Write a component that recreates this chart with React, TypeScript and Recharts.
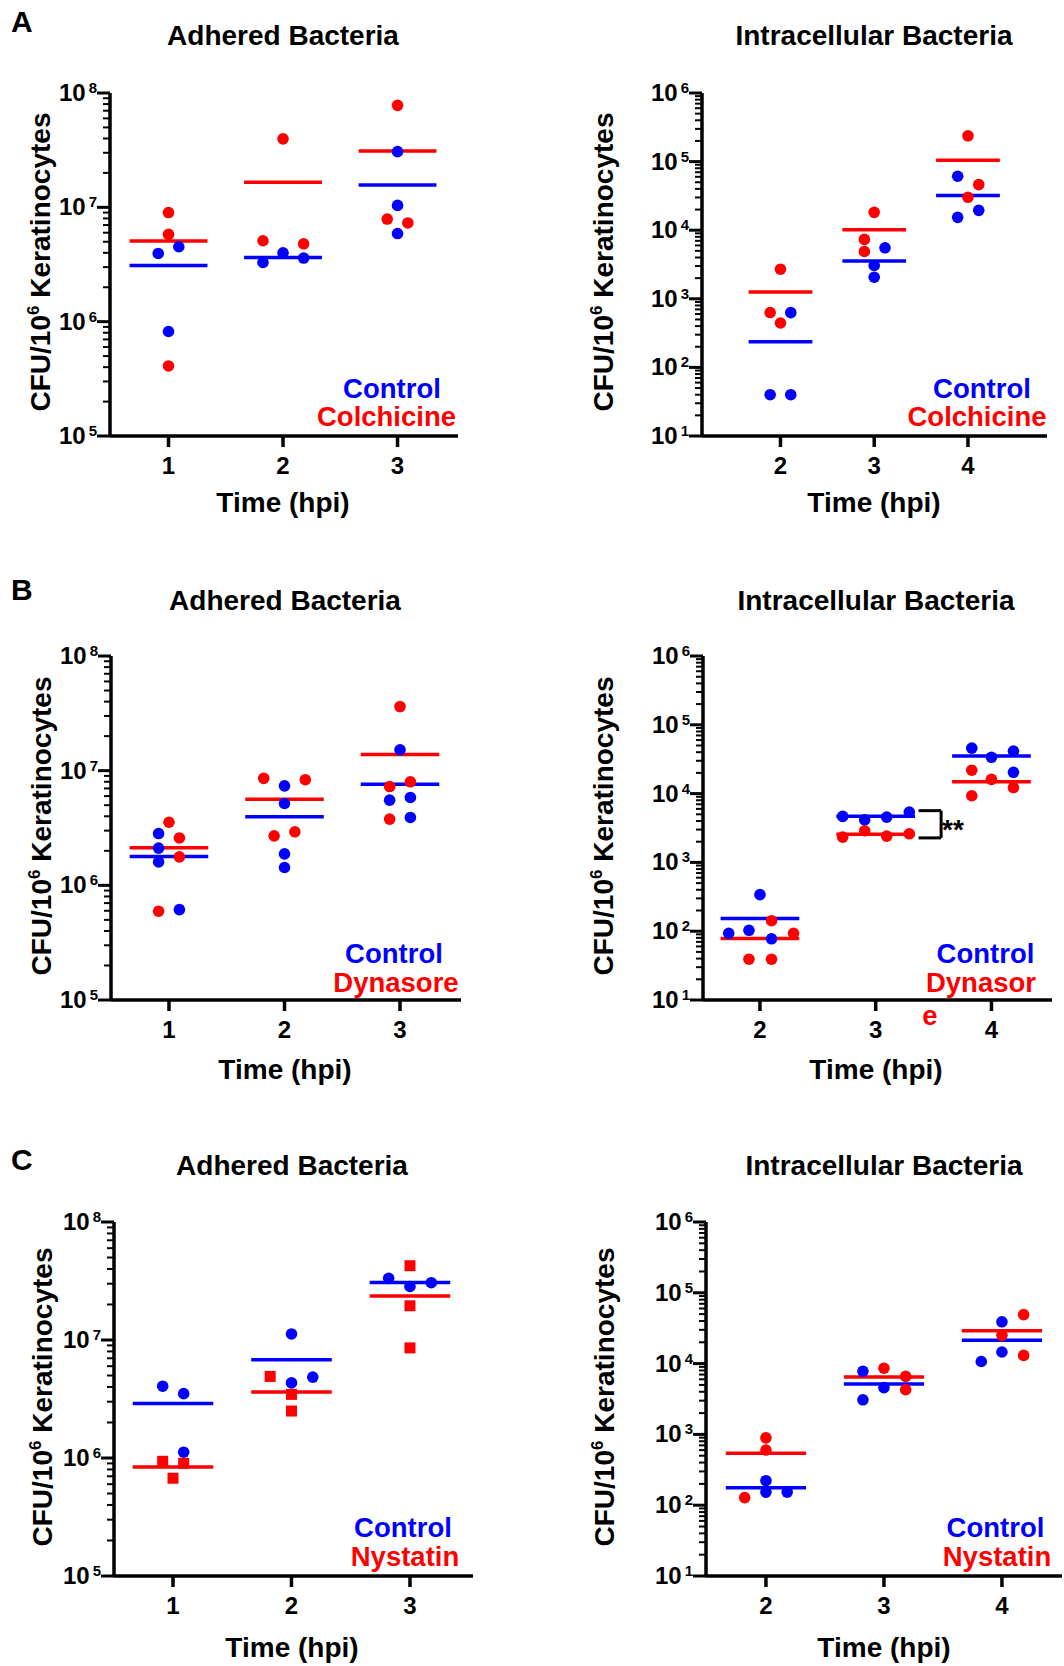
import React from 'react';
import { ScatterChart, Scatter, XAxis, YAxis, ReferenceLine } from 'recharts';

const BLUE = '#0000ff';
const RED = '#ff0000';
const FONT = '"Liberation Sans", Arial, Helvetica, sans-serif';

// ---------------- data ----------------
// Panel A (Colchicine)
const A_ADH_TIMES = [1, 2, 3];
const A_ADH_CONTROL = [[3.95e6, 4.52e6, 8.2e5], [3.3e6, 4.0e6, 3.6e6], [3.07e7, 1.04e7, 5.9e6]];
const A_ADH_COLCHICINE = [[9.0e6, 5.8e6, 4.1e5], [3.97e7, 5.1e6, 4.8e6], [7.8e7, 7.9e6, 7.3e6]];
const A_INT_TIMES = [2, 3, 4];
const A_INT_CONTROL = [[40, 40, 628], [5540, 3060, 2065], [61200, 15400, 19460]];
const A_INT_COLCHICINE = [[2700, 630, 444], [18200, 7340, 4900], [237700, 46200, 30170]];

// Panel B (Dynasore)
const B_ADH_TIMES = [1, 2, 3];
const B_ADH_CONTROL = [[2.83e6, 2.11e6, 1.6e6, 6.14e5], [7.37e6, 5.17e6, 1.88e6, 1.43e6], [1.52e7, 5.53e6, 5.84e6, 3.91e6]];
const B_ADH_DYNASORE = [[3.55e6, 2.59e6, 1.77e6, 5.94e5], [8.57e6, 8.34e6, 2.7e6, 2.93e6], [3.62e7, 8.0e6, 7.27e6, 3.78e6]];
const B_INT_TIMES = [2, 3, 4];
const B_INT_CONTROL = [[340, 93, 103, 77.5], [4660, 4150, 4550, 5400], [45800, 33700, 41400, 20400]];
const B_INT_DYNASORE = [[142, 93, 39.2, 39.2], [2330, 2885, 2407, 2606], [21900, 16100, 12240, 9310]];

// Panel C (Nystatin)
const C_ADH_TIMES = [1, 2, 3];
const C_ADH_CONTROL = [[4.06e6, 3.51e6, 1.12e6], [1.125e7, 4.33e6, 4.85e6], [3.33e7, 2.84e7, 3.06e7]];
const C_ADH_NYSTATIN = [[9.38e5, 9.02e5, 6.74e5], [4.91e6, 3.46e6, 2.5e6], [4.26e7, 1.95e7, 8.57e6]];
const C_INT_TIMES = [2, 3, 4];
const C_INT_CONTROL = [[222, 153, 153], [7780, 4580, 3080], [38950, 14590, 10710]];
const C_INT_NYSTATIN = [[894, 601, 128], [8590, 6590, 4280], [49140, 25050, 13060]];

// horizontal scatter of points within a column (layout only)
const A_ADH_CONTROL_DX = [[-0.09, 0.09, 0], [-0.175, 0, 0.18], [0, 0, 0]];
const A_ADH_COLCHICINE_DX = [[0, 0, 0], [0, -0.175, 0.18], [0, -0.09, 0.09]];
const A_INT_CONTROL_DX = [[-0.11, 0.11, 0.11], [0.115, 0, 0], [-0.11, -0.11, 0.115]];
const A_INT_COLCHICINE_DX = [[0, -0.11, 0], [0, -0.105, -0.105], [0, 0.115, 0]];
const B_ADH_CONTROL_DX = [[-0.09, -0.09, -0.09, 0.09], [0, 0, 0, 0], [0, -0.09, 0.09, 0.09]];
const B_ADH_DYNASORE_DX = [[0, 0.09, 0.09, -0.09], [-0.18, 0.18, -0.09, 0.09], [0, 0.09, -0.09, -0.09]];
const B_INT_CONTROL_DX = [[0, -0.27, -0.095, 0.1], [-0.285, -0.095, 0.095, 0.29], [-0.17, 0, 0.19, 0.19]];
const B_INT_DYNASORE_DX = [[0.1, 0.29, -0.095, 0.1], [-0.285, -0.095, 0.095, 0.29], [-0.17, 0, 0.19, -0.17]];
const C_ADH_CONTROL_DX = [[-0.087, 0.09, 0.09], [0, 0, 0.18], [-0.18, 0, 0.18]];
const C_ADH_NYSTATIN_DX = [[-0.087, 0.09, 0], [-0.18, 0, 0], [0, 0, 0]];
const C_INT_CONTROL_DX = [[0, 0, 0.18], [-0.178, 0, -0.178], [0, 0, -0.175]];
const C_INT_NYSTATIN_DX = [[0, 0, -0.18], [0, 0.184, 0.184], [0.184, 0, 0.184]];

// significance bracket (B, intracellular, 3 hpi), in data coordinates
const B_BRACKET_X = [3.37, 3.565];
const B_BRACKET_Y = [5650, 2270];

const MEAN_HALF_WIDTH = 0.34;

// ---------------- helpers ----------------
type PanelCfg = {
  key: string;
  axisX: number;
  top: number;
  bottom: number;
  right: number;
  xDomain: [number, number];
  yExp: [number, number];
  times: number[];
  ctrl: number[][];
  ctrlDx: number[][];
  trt: number[][];
  trtDx: number[][];
  trtSquare?: boolean;
  bracket?: boolean;
};

const toPoints = (times: number[], vals: number[][], dx: number[][]) =>
  times.flatMap((t, i) => vals[i].map((v, j) => ({ x: t + dx[i][j], y: v })));
const mean = (a: number[]) => a.reduce((s, v) => s + v, 0) / a.length;

const YTick = (props: any) => {
  const { x, y, payload } = props;
  const v = payload.value;
  const lg = Math.log10(v);
  const e = Math.round(lg);
  if (Math.abs(lg - e) > 1e-6) {
    return <line x1={x - 7} x2={x} y1={y} y2={y} stroke="#000" strokeWidth={2} />;
  }
  return (
    <g>
      <line x1={x - 13} x2={x} y1={y} y2={y} stroke="#000" strokeWidth={3} />
      <text x={x - 13} y={y + 8} textAnchor="end" fontFamily={FONT} fontWeight="bold" fill="#000">
        <tspan fontSize={24}>10</tspan>
        <tspan fontSize={15} dx={3} dy={-8}>{e}</tspan>
      </text>
    </g>
  );
};

const XTick = (props: any) => {
  const { x, y, payload } = props;
  return (
    <g>
      <line x1={x} x2={x} y1={y} y2={y + 11} stroke="#000" strokeWidth={3.5} />
      <text x={x} y={y + 38} textAnchor="middle" fontFamily={FONT} fontWeight="bold" fontSize={24} fill="#000">
        {payload.value}
      </text>
    </g>
  );
};

const circleShape = (color: string) => (p: any) => <circle cx={p.cx} cy={p.cy} r={5.8} fill={color} />;
const squareShape = (color: string) => (p: any) => (
  <rect x={p.cx - 5.5} y={p.cy - 5.5} width={11} height={11} fill={color} />
);

function Panel({ cfg }: { cfg: PanelCfg }) {
  const padL = 100;
  const padT = 20;
  const padB = 60;
  const padR = 1;
  const W = cfg.right - cfg.axisX + padL + padR;
  const H = cfg.bottom - cfg.top + padT + padB;
  const ticks: number[] = [];
  for (let e = cfg.yExp[0]; e < cfg.yExp[1]; e++) {
    for (let k = 1; k <= 9; k++) ticks.push(k * Math.pow(10, e));
  }
  ticks.push(Math.pow(10, cfg.yExp[1]));
  const ctrlPts = toPoints(cfg.times, cfg.ctrl, cfg.ctrlDx);
  const trtPts = toPoints(cfg.times, cfg.trt, cfg.trtDx);
  const axisStyle = { stroke: '#000', strokeWidth: 3.5 };
  return (
    <div style={{ position: 'absolute', left: cfg.axisX - padL, top: cfg.top - padT }}>
      <ScatterChart width={W} height={H} margin={{ top: padT, right: padR, bottom: 0, left: 0 }}>
        <XAxis
          type="number"
          dataKey="x"
          domain={cfg.xDomain}
          ticks={cfg.times}
          interval={0}
          allowDataOverflow
          tickSize={0}
          tickMargin={0}
          tickLine={false}
          axisLine={axisStyle}
          tick={(p: any) => <XTick {...p} />}
          height={padB}
        />
        <YAxis
          type="number"
          dataKey="y"
          scale="log"
          domain={[Math.pow(10, cfg.yExp[0]), Math.pow(10, cfg.yExp[1])]}
          allowDataOverflow
          ticks={ticks}
          interval={0}
          tickSize={0}
          tickMargin={0}
          tickLine={false}
          axisLine={axisStyle}
          tick={(p: any) => <YTick {...p} />}
          width={padL}
        />
        {cfg.times.map((t, i) => (
          <ReferenceLine
            key={'cm' + i}
            segment={[
              { x: t - MEAN_HALF_WIDTH, y: mean(cfg.ctrl[i]) },
              { x: t + MEAN_HALF_WIDTH, y: mean(cfg.ctrl[i]) },
            ]}
            stroke={BLUE}
            strokeWidth={3.5}
            ifOverflow="visible"
          />
        ))}
        {cfg.times.map((t, i) => (
          <ReferenceLine
            key={'tm' + i}
            segment={[
              { x: t - MEAN_HALF_WIDTH, y: mean(cfg.trt[i]) },
              { x: t + MEAN_HALF_WIDTH, y: mean(cfg.trt[i]) },
            ]}
            stroke={RED}
            strokeWidth={3.5}
            ifOverflow="visible"
          />
        ))}
        {cfg.bracket && (
          <ReferenceLine
            segment={[{ x: B_BRACKET_X[0], y: B_BRACKET_Y[0] }, { x: B_BRACKET_X[1], y: B_BRACKET_Y[0] }]}
            stroke="#000"
            strokeWidth={3}
            ifOverflow="visible"
          />
        )}
        {cfg.bracket && (
          <ReferenceLine
            segment={[{ x: B_BRACKET_X[1], y: B_BRACKET_Y[0] }, { x: B_BRACKET_X[1], y: B_BRACKET_Y[1] }]}
            stroke="#000"
            strokeWidth={3}
            ifOverflow="visible"
          />
        )}
        {cfg.bracket && (
          <ReferenceLine
            segment={[{ x: B_BRACKET_X[0], y: B_BRACKET_Y[1] }, { x: B_BRACKET_X[1], y: B_BRACKET_Y[1] }]}
            stroke="#000"
            strokeWidth={3}
            ifOverflow="visible"
          />
        )}
        <Scatter data={ctrlPts} fill={BLUE} shape={circleShape(BLUE)} isAnimationActive={false} />
        <Scatter
          data={trtPts}
          fill={RED}
          shape={cfg.trtSquare ? squareShape(RED) : circleShape(RED)}
          isAnimationActive={false}
        />
      </ScatterChart>
    </div>
  );
}

const PANELS: PanelCfg[] = [
  { key: 'AL', axisX: 110, top: 93, bottom: 436, right: 458, xDomain: [0.489, 3.528], yExp: [5, 8],
    times: A_ADH_TIMES, ctrl: A_ADH_CONTROL, ctrlDx: A_ADH_CONTROL_DX, trt: A_ADH_COLCHICINE, trtDx: A_ADH_COLCHICINE_DX },
  { key: 'AR', axisX: 702, top: 93, bottom: 436, right: 1047, xDomain: [1.163, 4.843], yExp: [1, 6],
    times: A_INT_TIMES, ctrl: A_INT_CONTROL, ctrlDx: A_INT_CONTROL_DX, trt: A_INT_COLCHICINE, trtDx: A_INT_COLCHICINE_DX },
  { key: 'BL', axisX: 111, top: 656, bottom: 1000, right: 461, xDomain: [0.498, 3.528], yExp: [5, 8],
    times: B_ADH_TIMES, ctrl: B_ADH_CONTROL, ctrlDx: B_ADH_CONTROL_DX, trt: B_ADH_DYNASORE, trtDx: B_ADH_DYNASORE_DX },
  { key: 'BR', axisX: 703, top: 656, bottom: 1000, right: 1052, xDomain: [1.508, 4.523], yExp: [1, 6],
    times: B_INT_TIMES, ctrl: B_INT_CONTROL, ctrlDx: B_INT_CONTROL_DX, trt: B_INT_DYNASORE, trtDx: B_INT_DYNASORE_DX, bracket: true },
  { key: 'CL', axisX: 114, top: 1222, bottom: 1576, right: 473, xDomain: [0.502, 3.532], yExp: [5, 8],
    times: C_ADH_TIMES, ctrl: C_ADH_CONTROL, ctrlDx: C_ADH_CONTROL_DX, trt: C_ADH_NYSTATIN, trtDx: C_ADH_NYSTATIN_DX, trtSquare: true },
  { key: 'CR', axisX: 706, top: 1222, bottom: 1576, right: 1062, xDomain: [1.492, 4.509], yExp: [1, 6],
    times: C_INT_TIMES, ctrl: C_INT_CONTROL, ctrlDx: C_INT_CONTROL_DX, trt: C_INT_NYSTATIN, trtDx: C_INT_NYSTATIN_DX },
];

// ---------------- text ----------------
const PANEL_LETTERS = [
  { t: 'A', x: 11, y: 32 },
  { t: 'B', x: 11, y: 600 },
  { t: 'C', x: 11, y: 1170 },
];
const TITLES = [
  { t: 'Adhered Bacteria', x: 283, y: 45 },
  { t: 'Intracellular Bacteria', x: 874, y: 45 },
  { t: 'Adhered Bacteria', x: 285, y: 610 },
  { t: 'Intracellular Bacteria', x: 876, y: 610 },
  { t: 'Adhered Bacteria', x: 292, y: 1175 },
  { t: 'Intracellular Bacteria', x: 884, y: 1175 },
];
const X_TITLES = [
  { x: 283, y: 512 },
  { x: 874, y: 512 },
  { x: 285, y: 1079 },
  { x: 876, y: 1079 },
  { x: 292, y: 1657 },
  { x: 884, y: 1657 },
];
const Y_TITLES = [
  { x: 50, y: 262 },
  { x: 613, y: 262 },
  { x: 51, y: 826 },
  { x: 613, y: 826 },
  { x: 52, y: 1397 },
  { x: 614, y: 1397 },
];
const LEGENDS = [
  { t: 'Control', c: BLUE, x: 392, y: 398 },
  { t: 'Colchicine', c: RED, x: 386.5, y: 426 },
  { t: 'Control', c: BLUE, x: 982, y: 398 },
  { t: 'Colchicine', c: RED, x: 977, y: 426 },
  { t: 'Control', c: BLUE, x: 394, y: 963 },
  { t: 'Dynasore', c: RED, x: 396, y: 992 },
  { t: 'Control', c: BLUE, x: 985.5, y: 963 },
  { t: 'Dynasor', c: RED, x: 981, y: 992 },
  { t: 'e', c: RED, x: 930, y: 1025 },
  { t: 'Control', c: BLUE, x: 403, y: 1537 },
  { t: 'Nystatin', c: RED, x: 405, y: 1566 },
  { t: 'Control', c: BLUE, x: 995.5, y: 1537 },
  { t: 'Nystatin', c: RED, x: 997, y: 1566 },
];

function Overlay() {
  return (
    <svg
      width={1064}
      height={1666}
      style={{ position: 'absolute', left: 0, top: 0, pointerEvents: 'none' }}
      fontFamily={FONT}
      fontWeight="bold"
    >
      {PANEL_LETTERS.map((l) => (
        <text key={l.t} x={l.x} y={l.y} fontSize={30} fill="#000">{l.t}</text>
      ))}
      {TITLES.map((l, i) => (
        <text key={'t' + i} x={l.x} y={l.y} fontSize={28} textAnchor="middle" fill="#000">{l.t}</text>
      ))}
      {X_TITLES.map((l, i) => (
        <text key={'x' + i} x={l.x} y={l.y} fontSize={28} textAnchor="middle" fill="#000">Time (hpi)</text>
      ))}
      {Y_TITLES.map((l, i) => (
        <text
          key={'y' + i}
          x={l.x}
          y={l.y}
          fontSize={28}
          textAnchor="middle"
          fill="#000"
          transform={`rotate(-90 ${l.x} ${l.y})`}
        >
          CFU/10
          <tspan fontSize={17} dy={-11}>6</tspan>
          <tspan dy={11}> Keratinocytes</tspan>
        </text>
      ))}
      {LEGENDS.map((l, i) => (
        <text key={'l' + i} x={l.x} y={l.y} fontSize={27.5} textAnchor="middle" fill={l.c}>{l.t}</text>
      ))}
      <text x={942} y={839} fontSize={28} fill="#000">**</text>
    </svg>
  );
}

export default function App() {
  return (
    <div
      style={{
        position: 'absolute',
        left: 0,
        top: 0,
        width: 1064,
        height: 1666,
        overflow: 'hidden',
        background: '#fff',
      }}
    >
      {PANELS.map((p) => (
        <Panel key={p.key} cfg={p} />
      ))}
      <Overlay />
    </div>
  );
}
